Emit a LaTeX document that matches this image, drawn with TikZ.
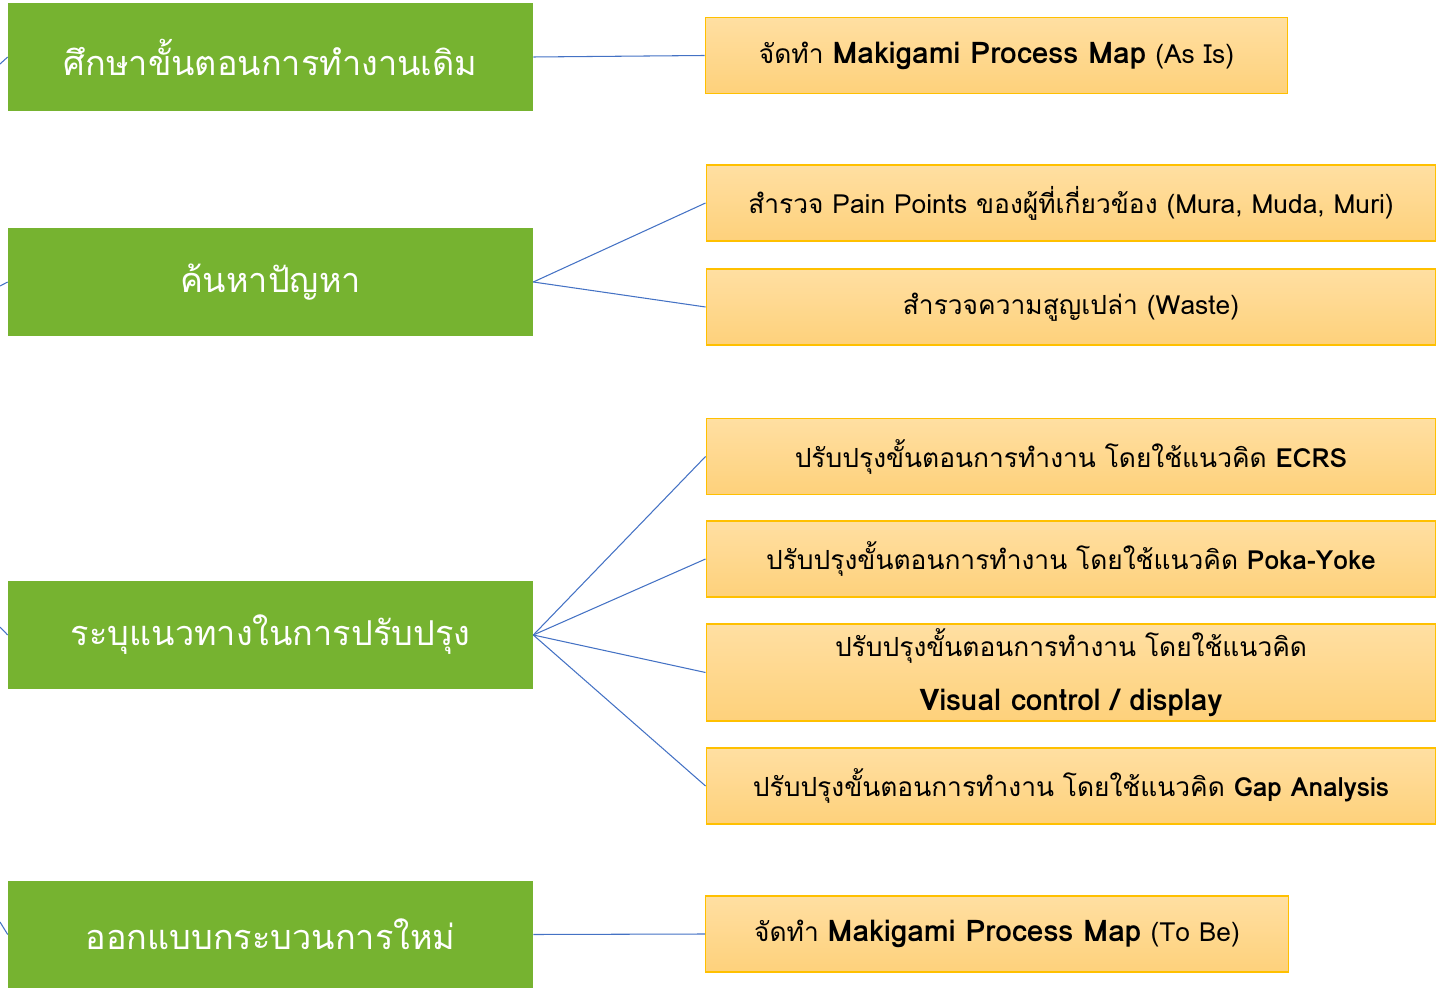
\documentclass[tikz,border=0pt]{standalone}
\usepackage{fontspec}
\setmainfont[Script=Thai]{Loma}
\usetikzlibrary{positioning}

\definecolor{stagegreen}{RGB}{118,179,48}
\definecolor{taskgold}{RGB}{255,192,0}
\definecolor{tasktop}{RGB}{255,223,162}
\definecolor{taskbottom}{RGB}{254,209,123}
\definecolor{linkblue}{RGB}{68,114,196}

\newcommand{\bigbold}[1]{{\fontsize{17}{20}\selectfont\bfseries #1}}

\tikzset{
  stage/.style={fill=stagegreen, text=white, inner sep=0pt,
    minimum width=10.5cm, minimum height=2.16cm,
    font=\fontsize{19.5}{24}\selectfont},
  task/.style={draw=taskgold, line width=0.6pt, top color=tasktop,
    bottom color=taskbottom, inner sep=0pt, align=center,
    minimum width=14.6cm, minimum height=1.52cm,
    font=\fontsize{15}{18}\selectfont},
  shorttask/.style={task, minimum width=11.66cm},
  link/.style={draw=linkblue, line width=0.6pt}
}

\begin{document}
\begin{tikzpicture}[x=0.02cm, y=-0.02cm]
	\useasboundingbox (0,0) rectangle (1437,989);

	% stages on the left
	\node[stage] (study) at (270.5,57) {ศึกษาขั้นตอนการทำงานเดิม};
	\node[stage] (problem) at (270.5,282) {ค้นหาปัญหา};
	\node[stage] (improve) at (270.5,635) {ระบุแนวทางในการปรับปรุง};
	\node[stage] (design) at (270.5,934.5) {ออกแบบกระบวนการใหม่};

	% tasks on the right
	\node[shorttask] (asis) at (996.5,55.5) {จัดทำ \bigbold{Makigami Process Map} (As Is)};
	\node[task] (pain) at (1071,203) {สำรวจ Pain Points ของผู้ที่เกี่ยวข้อง (Mura, Muda, Muri)};
	\node[task] (waste) at (1071,307) {สำรวจความสูญเปล่า (Waste)};
	\node[task] (ecrs) at (1071,456.5) {ปรับปรุงขั้นตอนการทำงาน โดยใช้แนวคิด {\bfseries ECRS}};
	\node[task] (poka) at (1071,559) {ปรับปรุงขั้นตอนการทำงาน โดยใช้แนวคิด {\bfseries Poka-Yoke}};
	\node[task, minimum height=1.94cm, font=\fontsize{15}{31}\selectfont] (visual) at (1071,672.5)
		{ปรับปรุงขั้นตอนการทำงาน โดยใช้แนวคิด\\\bigbold{Visual control / display}};
	\node[task] (gap) at (1071,786) {ปรับปรุงขั้นตอนการทำงาน โดยใช้แนวคิด {\bfseries Gap Analysis}};
	\node[shorttask] (tobe) at (997,934) {จัดทำ \bigbold{Makigami Process Map} (To Be)};

	% links from the root (off the page)
	\coordinate (r1) at (0,64);
	\coordinate (r2) at (0,286);
	\coordinate (r3) at (0,627);
	\coordinate (r4) at (0,922);
	\draw[link] (r1) -- (study.west);
	\draw[link] (r2) -- (problem.west);
	\draw[link] (r3) -- (improve.west);
	\draw[link] (r4) -- (design.west);

	% links from stages to tasks
	\draw[link] (study.east) -- (asis.west);
	\draw[link] (problem.east) -- (pain.west);
	\draw[link] (problem.east) -- (waste.west);
	\draw[link] (improve.east) -- (ecrs.west);
	\draw[link] (improve.east) -- (poka.west);
	\draw[link] (improve.east) -- (visual.west);
	\draw[link] (improve.east) -- (gap.west);
	\draw[link] (design.east) -- (tobe.west);
\end{tikzpicture}
\end{document}
